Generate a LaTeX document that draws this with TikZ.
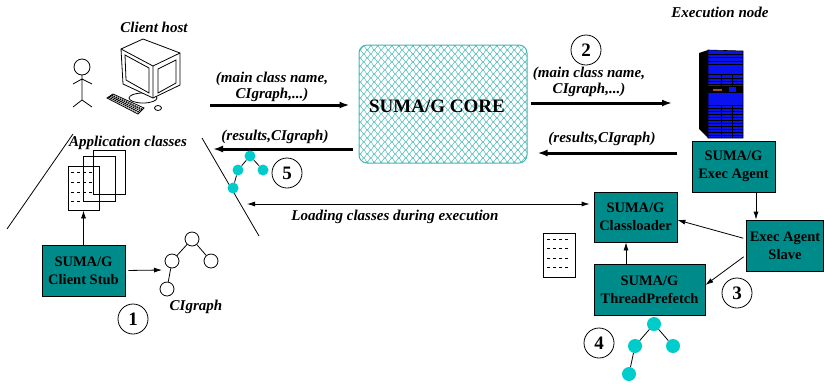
\documentclass[tikz,border=0pt]{standalone}
\usepackage{fontspec}
\setmainfont{Liberation Serif}
\usetikzlibrary{calc,arrows.meta}
\definecolor{agent}{HTML}{008B8B}
\definecolor{mesh}{HTML}{45B5B5}
\definecolor{leaf}{HTML}{00CCCC}
\definecolor{rack}{HTML}{0A12F0}
\definecolor{slot}{HTML}{A0521E}
\tikzset{
  box/.style={draw=black, fill=agent, line width=0.8pt, align=center, inner sep=0pt,
    font=\fontsize{14.5}{18}\selectfont\bfseries},
  lab/.style={font=\fontsize{15}{16.5}\selectfont\bfseries\itshape, align=center, inner sep=0pt},
  num/.style={circle, draw, line width=0.8pt, minimum size=30pt, inner sep=0pt,
    font=\fontsize{19}{19}\selectfont\bfseries},
  wn/.style={circle, draw, line width=0.8pt, fill=white, minimum size=14pt, inner sep=0pt},
  cn/.style={circle, fill=leaf, minimum size=11pt, inner sep=0pt},
  doc/.style={draw, line width=0.8pt, inner sep=0pt},
  flow/.style={line width=3pt, -{Latex[length=10pt,width=7pt]}},
  link/.style={line width=0.8pt, -{Latex[length=8pt,width=5pt]}},
  tie/.style={line width=0.8pt},
}

\begin{document}
\begin{tikzpicture}[x=1pt,y=-1pt]
  \useasboundingbox (0,0) rectangle (824,384);

  % ---- client side ----
  \node[lab] (hostlab) at (154,27) {Client host};
  % user
  \draw[tie] (82,67) circle (8);
  \draw[tie] (82,75) -- (82,100) (73,84) -- (82,79) -- (92,84)
             (73,107) -- (82,100) -- (92,107);
  % workstation
  \draw[tie, fill=white] (143,98) ellipse (14 and 5);
  \draw[tie, fill=white] (121,49) -- (143,39) -- (180,53) -- (180,85) -- (153,98) -- (123,84) -- cycle;
  \draw[tie] (121,49) -- (153,66) -- (180,53) (153,66) -- (153,98);
  \draw[tie] (125,55) -- (149,68) -- (149,93) -- (126,80) -- cycle;
  \draw[tie] (158,69) -- (176,60) -- (176,83) -- (158,93) -- cycle;
  \draw[tie, fill=white] (107,98) -- (113,94) -- (144,108) -- (138,114) -- cycle;
  \foreach \s in {0.25,0.5,0.75}
    \draw[line width=1.4pt, dash pattern=on 1.5pt off 0.8pt]
      ($(107,98)!\s!(113,94)$) -- ($(138,114)!\s!(144,108)$);
  \draw[tie, fill=white] (158,108) ellipse (3.5 and 2.5);

  \node[lab] (applab) at (128,143) {Application classes};
  \draw[tie] (73,134) -- (7,229);
  \draw[tie] (202,138) -- (259,236);

  % class files
  \node[doc, minimum width=32pt, minimum height=44pt] (docC) at (109,172) {};
  \node[doc, minimum width=32pt, minimum height=45pt] (docB) at (99,178.5) {};
  \node[doc, minimum width=31pt, minimum height=44pt] (docA) at (83.5,188) {};
  \foreach \y in {172,182,192,201}
    \draw[tie, dashed, dash pattern=on 3pt off 3pt] (71,\y) -- (93,\y);

  \node[box, minimum width=83pt, minimum height=51pt] (stub) at (83.5,270.5) {SUMA/G\\Client Stub};
  \draw[link] (stub.north) -- (docA.south);

  % class interaction graph
  \node[wn] (g1) at (192,239) {};
  \node[wn] (g2) at (172,261) {};
  \node[wn] (g3) at (211,261) {};
  \node[wn] (g4) at (167,289) {};
  \draw[tie] (g1) -- (g2) (g1) -- (g3) (g2) -- (g4);
  \coordinate (gin) at (162,270);
  \draw[link, shorten <=3pt] (stub.east) -- (gin);
  \node[lab] (glab) at (196,307) {CIgraph};
  \node[num] (n1) at (133,319) {1};

  % ---- core ----
  \begin{scope}
    \clip[rounded corners=8pt] (359,45) rectangle (527,163);
    \foreach \k in {0,...,30}
      \draw[mesh, line width=0.5pt, xshift=355pt] plot[domain=0:176, samples=200, smooth]
        (\x, {44+4*\k + 1.9*sin(51.4*\x + 180*mod(\k,2))});
  \end{scope}
  \node[draw=mesh, line width=1pt, rounded corners=8pt, minimum width=168pt, minimum height=118pt] (core) at (443,104) {};
  \node[font=\fontsize{19}{19}\selectfont\bfseries] (coretxt) at ([xshift=-6pt,yshift=-2pt]core.center) {SUMA/G CORE};

  \coordinate (cin) at (210,105);
  \coordinate (cback) at (213,149);
  \draw[flow, shorten >=9pt] (cin) -- (cin -| core.west);
  \node[lab] (sendL) at (272,87) {(main class name,\\CIgraph,...)};
  \draw[flow, shorten <=6pt] (cback -| core.west) -- (cback);
  \node[lab] (backL) at (275,137) {(results,CIgraph)};
  \node[cn] (c1) at (250,156) {};
  \node[cn] (c2) at (238,170) {};
  \node[cn] (c3) at (263,170) {};
  \node[cn] (c4) at (233,188) {};
  \draw[tie] (c1) -- (c2) (c1) -- (c3) (c2) -- (c4);
  \node[num] (n5) at (287,173) {5};

  % ---- execution node ----
  \node[lab] (execlab) at (720,12) {Execution node};
  \begin{scope}
    \fill[black] (699,53) -- (708,50) -- (708,138) -- (699,129) -- cycle;
    \filldraw[fill=rack, draw=black, line width=0.6pt] (708,50) -- (743,51) -- (743,138) -- (708,138) -- cycle;
    \foreach \y in {54,57,61,64,74,78,81,84,105,108,111,114,117,120,123,126,129,132,135}
      \draw[line width=0.6pt] (708,\y) -- (743,\y);
    \fill[black] (708,86) rectangle (743,93);
    \fill[slot] (713,88.5) rectangle (722,90.5);
    \fill[rack] (729,87) rectangle (736,92);
    \draw[line width=0.6pt] (721,74) -- (721,86) (732,74) -- (732,86)
                            (721,105) -- (721,138) (732,105) -- (732,138);
  \end{scope}
  \coordinate (srv) at (699,103);

  \node[num] (n2) at (586,50) {2};
  \node[lab] (sendR) at (589,82) {(main class name,\\CIgraph,...)};
  \draw[flow, shorten <=3pt] (core.east |- srv) -- ([xshift=-27pt]srv);
  \node[lab] (backR) at (602,139) {(results,CIgraph)};

  \node[box, minimum width=83pt, minimum height=51pt] (exec) at (733.5,166.5) {SUMA/G\\Exec Agent};
  \draw[flow, shorten <=15pt, shorten >=10pt] (exec.west |- 0,153) -- (core.east |- 0,153);

  \node[box, minimum width=77pt, minimum height=51pt] (slave) at (785,245.5) {Exec Agent\\Slave};
  \node[box, minimum width=83pt, minimum height=50pt] (cl) at (635.5,217) {SUMA/G\\Classloader};
  \node[box, minimum width=111pt, minimum height=51pt] (pref) at (649.5,289.5) {SUMA/G\\ThreadPrefetch};

  \draw[link] ([xshift=22.5pt]exec.south) -- ([xshift=22.5pt]exec.south |- slave.north);
  \draw[link, shorten <=3pt] ([yshift=6.5pt]slave.west) -- ([yshift=-3pt]cl.east);
  \draw[link, shorten <=3pt] ([yshift=-9.5pt]slave.west) -- ([yshift=4.5pt]pref.east);
  \draw[link] ([xshift=-9.5pt]cl.south |- pref.north) -- ([xshift=-9.5pt]cl.south);

  \coordinate (ldL) at (247,204);
  \draw[line width=0.8pt, {Latex[length=8pt,width=5pt]}-{Latex[length=8pt,width=5pt]}, shorten >=4pt]
    (ldL) -- (ldL -| cl.west);
  \node[lab] (ldlab) at (395,217) {Loading classes during execution};

  % fetched class file
  \node[doc, minimum width=32pt, minimum height=44pt] (docX) at (559,255) {};
  \foreach \y in {239,248,258,267}
    \draw[tie, dash pattern=on 3pt off 3pt] (547,\y) -- (569,\y);

  \node[num] (n3) at (737,293) {3};
  \node[num] (n4) at (599,343) {4};
  \node[cn, minimum size=14pt] (p1) at (654,324) {};
  \node[cn, minimum size=14pt] (p2) at (635,346) {};
  \node[cn, minimum size=14pt] (p3) at (673,346) {};
  \node[cn, minimum size=14pt] (p4) at (629,374) {};
  \draw[tie] (p1) -- (p2) (p1) -- (p3) (p2) -- (p4);
\end{tikzpicture}
\end{document}
